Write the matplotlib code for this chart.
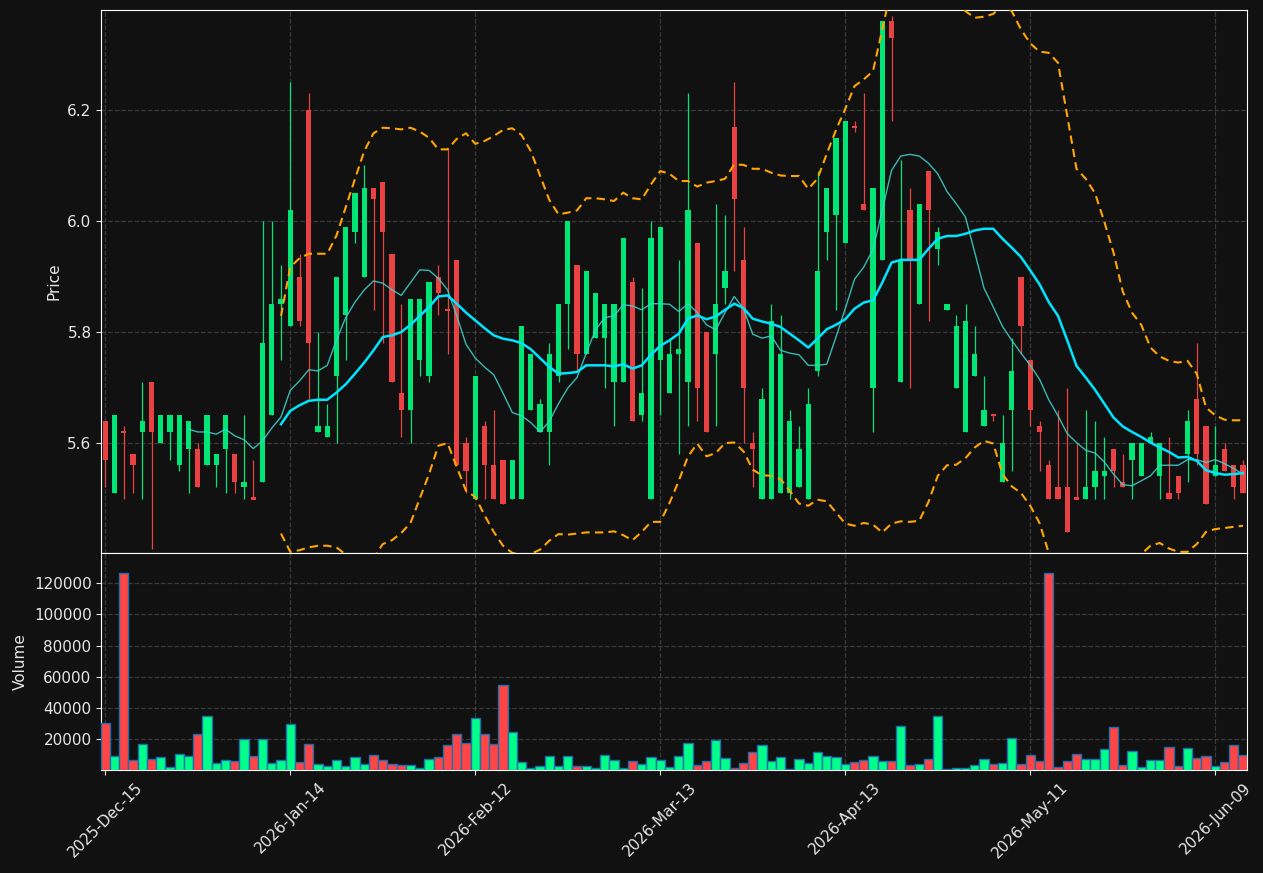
import numpy as np
import matplotlib
matplotlib.use("Agg")
import matplotlib.pyplot as plt

# OHLC, one entry per trading session
opens = [5.64, 5.51, 5.622, 5.58, 5.62, 5.71, 5.60, 5.62, 5.56, 5.59,
         5.59, 5.56, 5.56, 5.59, 5.58, 5.52, 5.502, 5.53, 5.65, 5.85,
         5.81, 5.90, 6.20, 5.62, 5.61, 5.72, 5.83, 5.98, 5.90, 6.06,
         6.07, 5.94, 5.69, 5.66, 5.75, 5.72, 5.90, 5.842, 5.93, 5.60,
         5.50, 5.63, 5.56, 5.57, 5.50, 5.50, 5.66, 5.62, 5.62, 5.72,
         5.85, 5.92, 5.76, 5.79, 5.79, 5.71, 5.71, 5.89, 5.65, 5.50,
         5.75, 5.69, 5.76, 5.71, 5.96, 5.80, 5.76, 5.88, 6.17, 5.93,
         5.60, 5.50, 5.50, 5.51, 5.51, 5.52, 5.50, 5.73, 5.98, 6.01,
         5.96, 6.172, 6.03, 5.70, 5.93, 6.36, 5.71, 6.02, 5.85, 6.09,
         5.95, 5.84, 5.70, 5.62, 5.72, 5.63, 5.652, 5.53, 5.66, 5.90,
         5.75, 5.63, 5.56, 5.52, 5.52, 5.502, 5.50, 5.52, 5.54, 5.59,
         5.53, 5.57, 5.54, 5.60, 5.54, 5.51, 5.54, 5.58, 5.68, 5.63,
         5.54, 5.59, 5.56, 5.56]
highs = [5.64, 5.65, 5.63, 5.58, 5.71, 5.71, 5.65, 5.65, 5.65, 5.64,
         5.60, 5.65, 5.58, 5.65, 5.58, 5.65, 5.57, 6.00, 6.00, 5.92,
         6.25, 5.94, 6.23, 5.80, 5.67, 5.90, 5.99, 6.05, 6.10, 6.06,
         6.07, 5.94, 5.85, 5.86, 5.86, 5.89, 5.92, 6.13, 5.93, 5.61,
         5.72, 5.64, 5.66, 5.57, 5.57, 5.81, 5.76, 5.68, 5.78, 5.85,
         6.00, 5.92, 5.91, 5.87, 5.85, 5.85, 5.97, 5.90, 5.88, 6.00,
         5.99, 5.79, 5.93, 6.23, 5.96, 5.80, 6.03, 6.01, 6.25, 5.99,
         5.62, 5.70, 5.85, 5.83, 5.66, 5.63, 5.70, 6.09, 6.06, 6.15,
         6.18, 6.18, 6.23, 6.06, 6.36, 6.37, 6.11, 6.06, 6.03, 6.09,
         5.99, 5.85, 5.83, 5.85, 5.81, 5.72, 5.652, 5.65, 5.79, 5.90,
         5.75, 5.64, 5.57, 5.66, 5.70, 5.60, 5.66, 5.64, 5.61, 5.59,
         5.58, 5.60, 5.60, 5.62, 5.60, 5.61, 5.54, 5.66, 5.78, 5.63,
         5.63, 5.60, 5.56, 5.57]
lows = [5.52, 5.51, 5.50, 5.51, 5.50, 5.41, 5.60, 5.57, 5.55, 5.51,
        5.52, 5.56, 5.52, 5.51, 5.51, 5.50, 5.50, 5.53, 5.65, 5.75,
        5.81, 5.81, 5.68, 5.62, 5.61, 5.60, 5.75, 5.96, 5.90, 5.84,
        5.78, 5.71, 5.61, 5.60, 5.72, 5.71, 5.83, 5.76, 5.56, 5.51,
        5.50, 5.50, 5.50, 5.49, 5.50, 5.50, 5.66, 5.62, 5.56, 5.71,
        5.77, 5.73, 5.76, 5.79, 5.70, 5.63, 5.71, 5.64, 5.64, 5.50,
        5.65, 5.69, 5.58, 5.63, 5.64, 5.62, 5.63, 5.85, 5.91, 5.60,
        5.52, 5.50, 5.50, 5.51, 5.50, 5.52, 5.50, 5.72, 5.93, 5.84,
        5.96, 6.16, 6.02, 5.62, 5.93, 6.18, 5.71, 5.70, 5.85, 5.82,
        5.92, 5.84, 5.70, 5.62, 5.72, 5.63, 5.64, 5.53, 5.55, 5.76,
        5.63, 5.55, 5.50, 5.50, 5.44, 5.50, 5.50, 5.50, 5.50, 5.52,
        5.52, 5.50, 5.54, 5.60, 5.50, 5.50, 5.50, 5.53, 5.56, 5.49,
        5.54, 5.55, 5.50, 5.51]
closes = [5.57, 5.65, 5.618, 5.56, 5.64, 5.62, 5.65, 5.65, 5.65, 5.64,
          5.52, 5.65, 5.58, 5.65, 5.53, 5.53, 5.498, 5.78, 5.85, 5.86,
          6.02, 5.82, 5.78, 5.63, 5.63, 5.90, 5.99, 6.05, 6.06, 6.04,
          5.98, 5.71, 5.66, 5.86, 5.86, 5.89, 5.87, 5.838, 5.56, 5.55,
          5.72, 5.56, 5.50, 5.49, 5.57, 5.81, 5.76, 5.67, 5.76, 5.85,
          6.00, 5.76, 5.91, 5.87, 5.85, 5.85, 5.97, 5.64, 5.69, 5.97,
          5.99, 5.76, 5.77, 6.02, 5.70, 5.62, 5.85, 5.91, 6.04, 5.70,
          5.59, 5.68, 5.82, 5.76, 5.64, 5.59, 5.67, 5.91, 6.06, 6.15,
          6.18, 6.168, 6.02, 6.06, 6.36, 6.33, 5.93, 5.93, 6.03, 6.02,
          5.98, 5.85, 5.81, 5.82, 5.76, 5.66, 5.648, 5.60, 5.73, 5.81,
          5.66, 5.62, 5.50, 5.50, 5.44, 5.498, 5.52, 5.55, 5.55, 5.55,
          5.52, 5.60, 5.60, 5.61, 5.60, 5.50, 5.51, 5.64, 5.58, 5.49,
          5.56, 5.55, 5.52, 5.51]
volumes = [30260, 9530, 126400, 6540, 16800, 7600, 8460, 2480, 10380, 9530,
           23200, 34750, 4610, 6540, 5900, 20430, 9530, 20430, 4610, 6540,
           29600, 5250, 16800, 3970, 3120, 6540, 3120, 8460, 3970, 9740,
           6540, 3970, 3330, 3330, 1410, 7180, 8460, 16150, 23200, 17400,
           33460, 23200, 16800, 54620, 24490, 5250, 1840, 3120, 9100, 3120,
           9100, 3120, 3120, 1840, 9740, 6540, 1840, 5900, 3970, 8460,
           6540, 2480, 9100, 17440, 3330, 5900, 19360, 7820, 1840, 4610,
           11670, 16150, 5900, 8460, 1200, 7180, 4610, 11670, 9100, 8460,
           3970, 5250, 6540, 9100, 5900, 5900, 28330, 3330, 3970, 7180,
           34750, 770, 1410, 1410, 3330, 7180, 3970, 4610, 20640, 3970,
           9740, 5900, 126400, 2050, 5900, 10380, 7180, 7180, 13590, 27690,
           3330, 12310, 2050, 6540, 6540, 14870, 2690, 14230, 7820, 9100,
           2690, 5250, 16150, 9740]

# overlay lines (first value sits at the given session)
ma_slow_start = 19
ma_slow = [5.634, 5.658, 5.668, 5.676, 5.678, 5.678, 5.691, 5.706, 5.725, 5.745,
           5.767, 5.791, 5.794, 5.800, 5.813, 5.829, 5.845, 5.864, 5.866, 5.851,
           5.835, 5.821, 5.807, 5.794, 5.788, 5.785, 5.780, 5.769, 5.753, 5.737,
           5.725, 5.726, 5.728, 5.740, 5.740, 5.740, 5.738, 5.742, 5.734, 5.740,
           5.759, 5.775, 5.785, 5.797, 5.824, 5.830, 5.823, 5.828, 5.840, 5.851,
           5.843, 5.824, 5.819, 5.815, 5.809, 5.797, 5.785, 5.772, 5.788, 5.805,
           5.813, 5.823, 5.842, 5.853, 5.857, 5.889, 5.925, 5.930, 5.930, 5.930,
           5.950, 5.968, 5.973, 5.973, 5.977, 5.983, 5.986, 5.986, 5.968, 5.952,
           5.935, 5.911, 5.886, 5.854, 5.829, 5.785, 5.739, 5.718, 5.696, 5.671,
           5.646, 5.630, 5.620, 5.611, 5.601, 5.592, 5.584, 5.574, 5.575, 5.568,
           5.551, 5.546, 5.543, 5.544, 5.546]
ma_fast_start = 9
ma_fast = [5.625, 5.620, 5.620, 5.616, 5.625, 5.613, 5.606, 5.590, 5.604, 5.627,
           5.647, 5.695, 5.712, 5.732, 5.730, 5.740, 5.786, 5.826, 5.854, 5.876,
           5.892, 5.888, 5.876, 5.866, 5.889, 5.912, 5.911, 5.897, 5.876, 5.829,
           5.778, 5.753, 5.737, 5.723, 5.690, 5.655, 5.649, 5.637, 5.620, 5.639,
           5.671, 5.699, 5.718, 5.762, 5.804, 5.826, 5.829, 5.849, 5.847, 5.840,
           5.851, 5.851, 5.850, 5.837, 5.851, 5.835, 5.813, 5.804, 5.835, 5.864,
           5.842, 5.796, 5.789, 5.793, 5.767, 5.762, 5.759, 5.740, 5.740, 5.742,
           5.791, 5.842, 5.895, 5.917, 5.949, 6.019, 6.091, 6.117, 6.120, 6.117,
           6.104, 6.085, 6.053, 6.031, 6.007, 5.943, 5.879, 5.845, 5.810, 5.785,
           5.762, 5.740, 5.715, 5.678, 5.649, 5.617, 5.601, 5.587, 5.582, 5.566,
           5.544, 5.525, 5.523, 5.532, 5.541, 5.560, 5.560, 5.560, 5.570, 5.570,
           5.565, 5.570, 5.563, 5.554, 5.544]
band_upper = [5.829, 5.917, 5.933, 5.941, 5.941, 5.941, 5.974, 6.025, 6.076, 6.126,
              6.158, 6.168, 6.167, 6.165, 6.168, 6.161, 6.150, 6.129, 6.129, 6.148,
              6.158, 6.139, 6.144, 6.153, 6.164, 6.167, 6.155, 6.126, 6.082, 6.038,
              6.012, 6.015, 6.019, 6.041, 6.041, 6.039, 6.036, 6.051, 6.041, 6.039,
              6.066, 6.090, 6.085, 6.072, 6.072, 6.062, 6.069, 6.072, 6.076, 6.102,
              6.101, 6.094, 6.094, 6.087, 6.082, 6.081, 6.081, 6.058, 6.076, 6.121,
              6.164, 6.202, 6.243, 6.255, 6.270, 6.345, 6.42, 6.46, 6.48, 6.49,
              6.48, 6.46, 6.43, 6.40, 6.378, 6.366, 6.368, 6.373, 6.39, 6.378,
              6.345, 6.320, 6.305, 6.303, 6.285, 6.189, 6.094, 6.076, 6.050, 5.999,
              5.943, 5.873, 5.835, 5.813, 5.772, 5.756, 5.748, 5.745, 5.748, 5.725,
              5.664, 5.650, 5.642, 5.641, 5.641]
band_lower = [5.437, 5.404, 5.407, 5.412, 5.415, 5.415, 5.412, 5.399, 5.386, 5.386,
              5.393, 5.418, 5.425, 5.438, 5.456, 5.500, 5.544, 5.595, 5.600, 5.557,
              5.514, 5.503, 5.470, 5.440, 5.415, 5.402, 5.400, 5.400, 5.408, 5.424,
              5.436, 5.435, 5.437, 5.439, 5.439, 5.439, 5.441, 5.434, 5.425, 5.440,
              5.458, 5.458, 5.492, 5.532, 5.576, 5.599, 5.576, 5.582, 5.600, 5.601,
              5.585, 5.552, 5.542, 5.541, 5.535, 5.514, 5.491, 5.487, 5.498, 5.495,
              5.475, 5.455, 5.451, 5.456, 5.453, 5.439, 5.455, 5.459, 5.458, 5.460,
              5.494, 5.541, 5.560, 5.561, 5.573, 5.592, 5.604, 5.599, 5.544, 5.522,
              5.510, 5.487, 5.456, 5.402, 5.37, 5.33, 5.30, 5.29, 5.29, 5.31,
              5.34, 5.36, 5.385, 5.400, 5.415, 5.420, 5.410, 5.404, 5.404, 5.418,
              5.440, 5.445, 5.447, 5.449, 5.451]

tick_pos = [0, 20, 40, 60, 80, 100, 120]
tick_labels = ["2025-Dec-15", "2026-Jan-14", "2026-Feb-12", "2026-Mar-13",
               "2026-Apr-13", "2026-May-11", "2026-Jun-09"]

BG = "#111111"
UP, DOWN = "#00e676", "#ea4242"
VOL_UP, VOL_DOWN = "#00ff88", "#ff4545"
TXT = "#e6e6e6"

o = np.array(opens)
h = np.array(highs)
l = np.array(lows)
c = np.array(closes)
v = np.array(volumes)
x = np.arange(len(o))
up = c >= o

fig = plt.figure(figsize=(12.63, 8.73), dpi=100, facecolor=BG)
ax = fig.add_axes([0.0802, 0.3666, 0.9069, 0.6219], facecolor=BG)
axv = fig.add_axes([0.0802, 0.118, 0.9069, 0.2486], facecolor=BG, sharex=ax)

# candles
cols = np.where(up, UP, DOWN)
ax.vlines(x, l, h, colors=cols, linewidth=0.9, zorder=2)
body_lo = np.minimum(o, c)
body_h = np.maximum(np.abs(c - o), 0.003)
ax.bar(x, body_h, 0.58, bottom=body_lo, color=cols, linewidth=0, zorder=3)

# overlays
xs = np.arange(ma_slow_start, ma_slow_start + len(ma_slow))
xf = np.arange(ma_fast_start, ma_fast_start + len(ma_fast))
ax.plot(xf, ma_fast, color="#3fd6cf", lw=1.0, alpha=0.85, zorder=4)
ax.plot(xs, ma_slow, color="#00e5ff", lw=1.8, zorder=5)
ax.plot(xs, band_upper, color="#ffa500", lw=1.5, ls=(0, (4, 2.5)), zorder=4)
ax.plot(xs, band_lower, color="#ffa500", lw=1.5, ls=(0, (4, 2.5)), zorder=4)

ax.set_ylim(5.402, 6.380)
ax.set_yticks([5.6, 5.8, 6.0, 6.2])
ax.set_ylabel("Price", color=TXT, fontsize=11)

# volume
vcols = np.where(up, VOL_UP, VOL_DOWN)
axv.bar(x, v, 1.0, color=vcols, edgecolor="#1f6fb0", linewidth=1.0, zorder=3)
axv.set_ylim(340, 139400)
axv.set_yticks([20000, 40000, 60000, 80000, 100000, 120000])
axv.set_yticklabels(["20000", "40000", "60000", "80000", "100000", "120000"])
axv.set_ylabel("Volume", color=TXT, fontsize=11)

axv.set_xlim(-0.43, 123.4)
axv.set_xticks(tick_pos)
axv.set_xticklabels(tick_labels, rotation=45, ha="center")
ax.tick_params(axis="x", bottom=False, labelbottom=False)

for a in (ax, axv):
    a.grid(True, color="#3a3a3a", ls="--", lw=0.9)
    a.set_axisbelow(True)
    a.tick_params(colors=TXT, labelsize=11)
    for s in a.spines.values():
        s.set_color("white")

fig.savefig("out.png", dpi=100, facecolor=BG)
